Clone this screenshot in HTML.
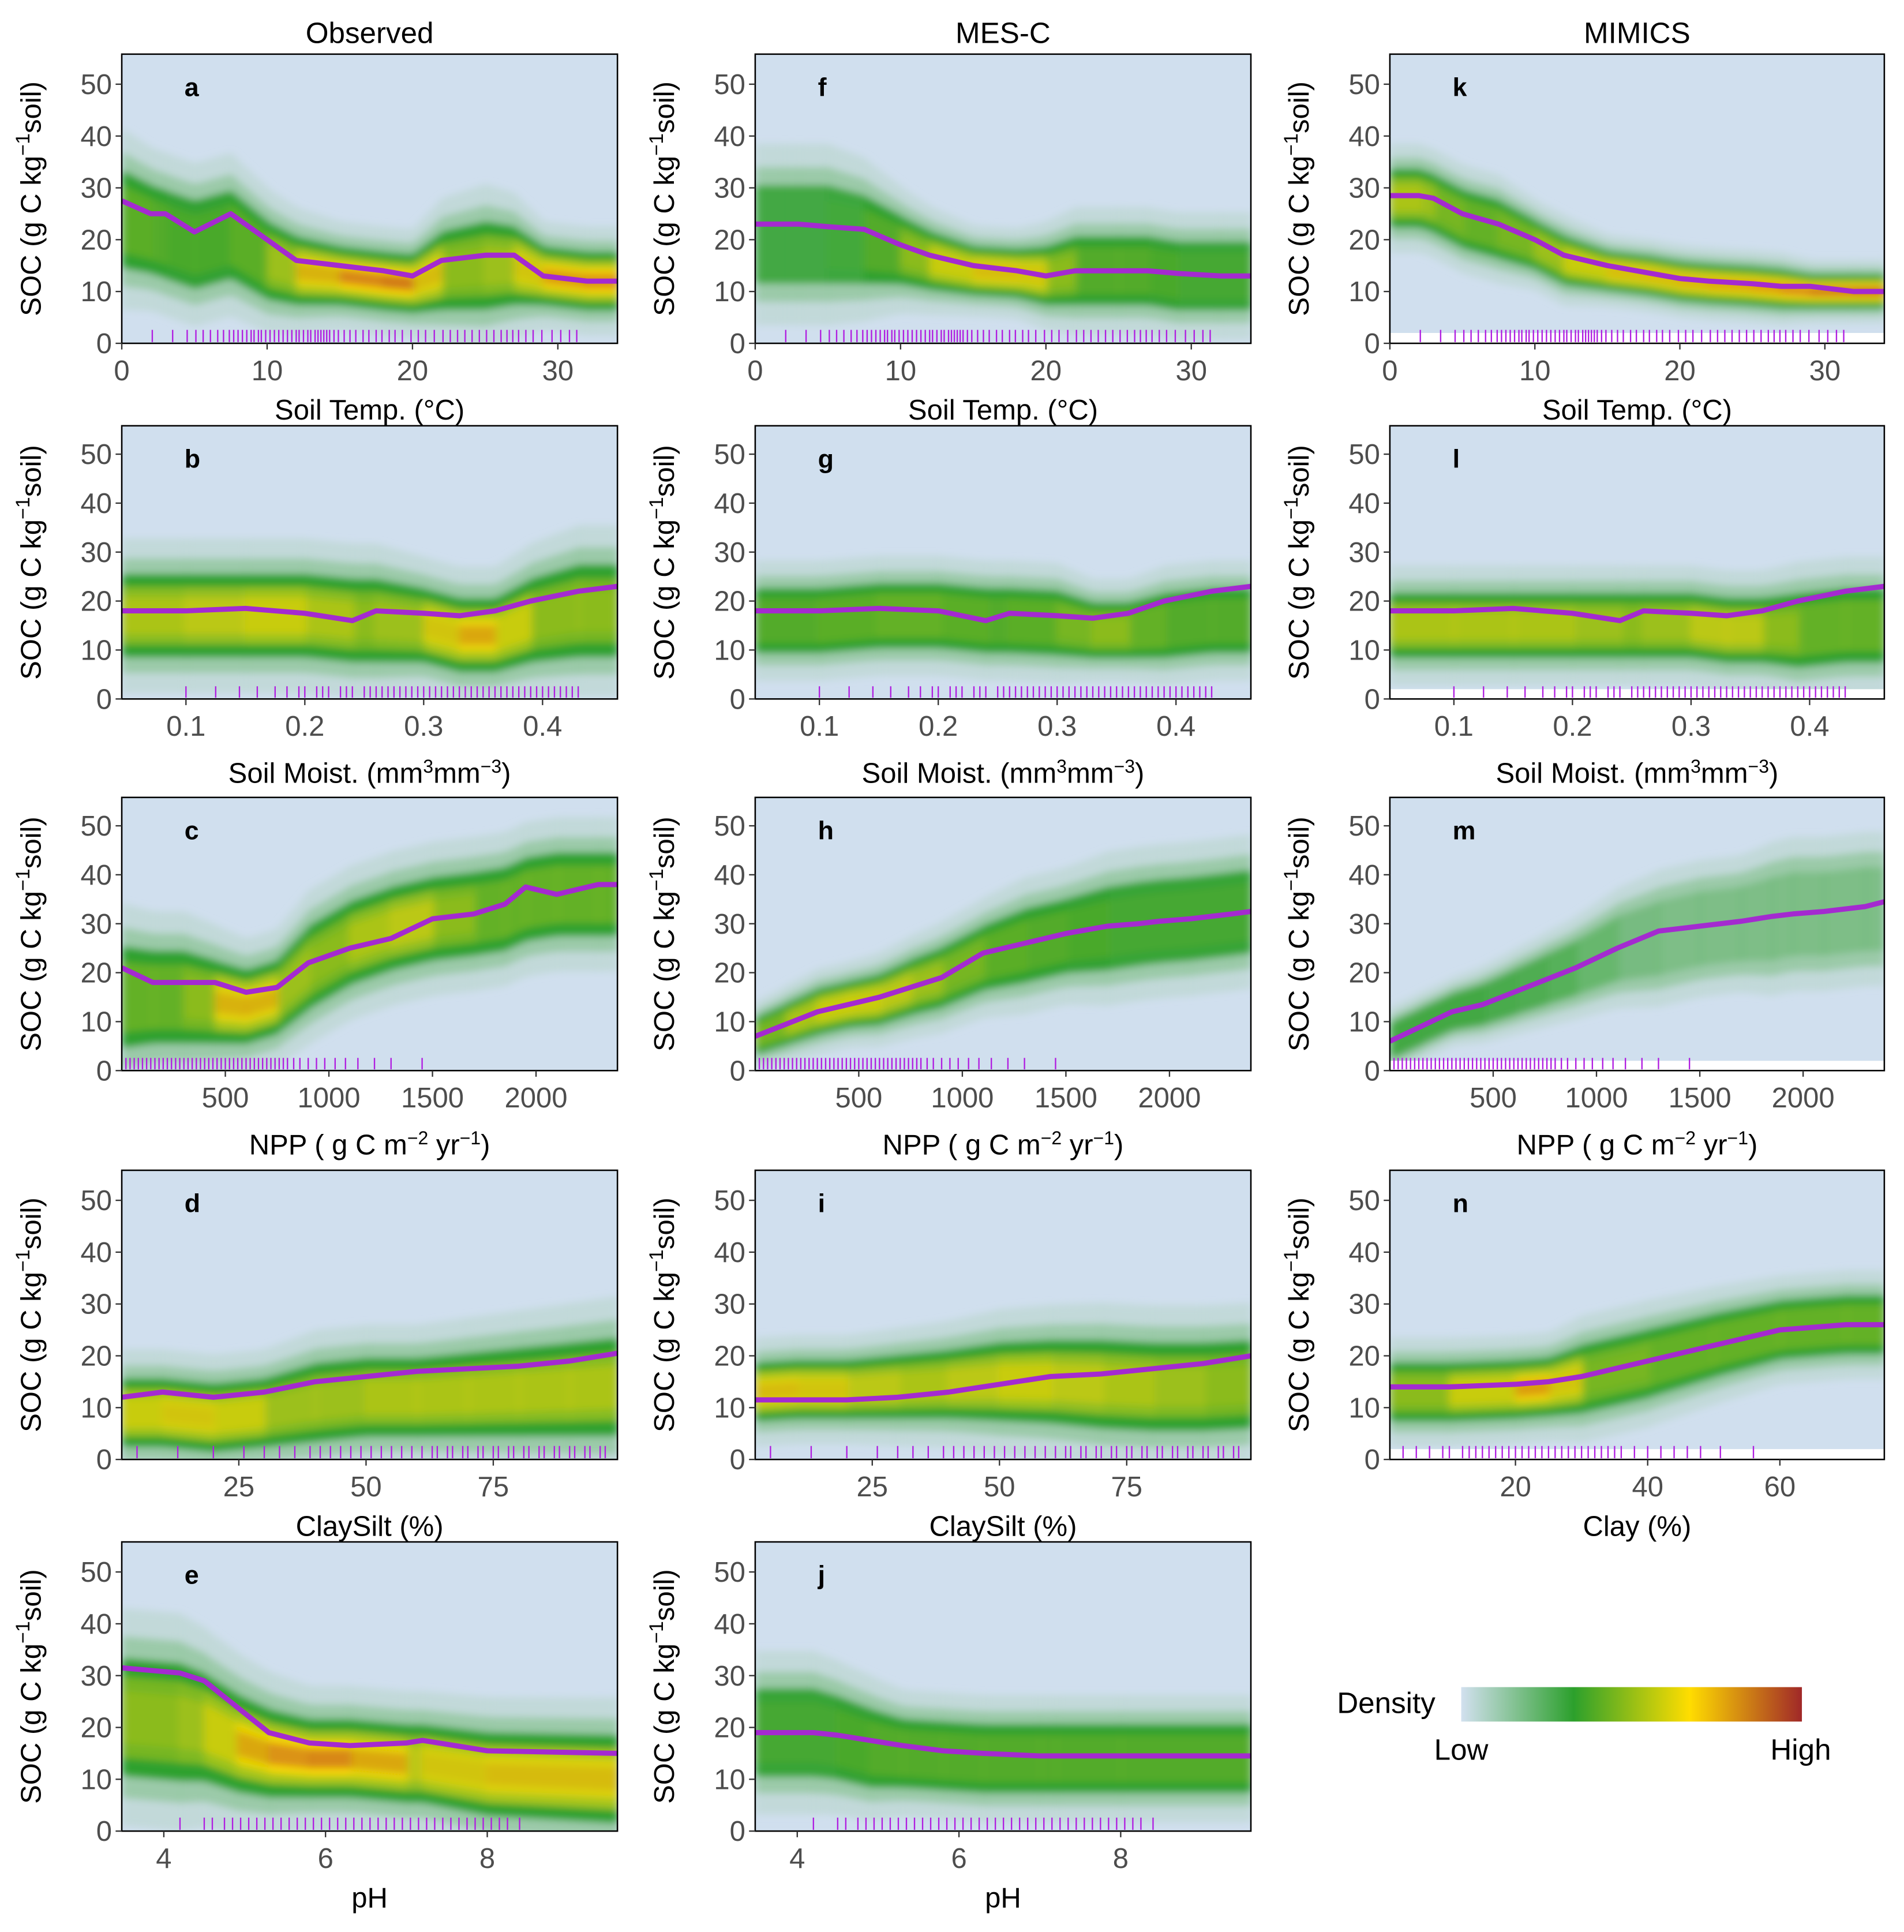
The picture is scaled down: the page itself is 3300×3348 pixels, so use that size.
<!DOCTYPE html>
<html><head><meta charset="utf-8"><style>
html,body{margin:0;padding:0;background:#fff;}
svg{display:block;font-family:"Liberation Sans",sans-serif;}
</style></head><body>
<svg id="fig" width="3300" height="3348" viewBox="0 0 1548 1570" preserveAspectRatio="none" xmlns="http://www.w3.org/2000/svg">
<defs>
<filter id="blur" x="-5%" y="-20%" width="110%" height="140%"><feGaussianBlur stdDeviation="3.5 3"/></filter>
<linearGradient id="legGrad" x1="0" x2="1" y1="0" y2="0">
<stop offset="0" stop-color="#d2e0ef"/><stop offset="0.33" stop-color="#2ca02c"/><stop offset="0.67" stop-color="#ffdd00"/><stop offset="1" stop-color="#a02828"/>
</linearGradient>
</defs>
</svg>
<script>
// ---- data (x sample positions, mean line, density mode, spread, heat) ----
const tempXs=[0,2,3,5,7.5,10,12,15,18,20,22,25,27,29,32,34.1];
const aLine=[27.5,25,25,21.5,25,20,16,15,14,13,16,17,17,13,12,12];
const aMode=[24,22,21,19,21,16,14,13,12,11.5,14,15,15,13,12,12];
const aSpread=[10,9,9,9,9,8,7,6,6,6,8,9,8,6,6,6];
const aHeat=[0.45,0.4,0.4,0.35,0.4,0.45,0.6,0.75,0.8,0.8,0.5,0.5,0.55,0.7,0.75,0.75];
const fLine=[23,23,23,22.5,22,19,17,15,14,13,14,14,14,13.5,13,13];
const fMode=[21,21,21,21,20,18,16,14,13.5,13,14,14,14,13,13,13];
const fSpread=[10,10,10,10,9,7,6,5,5,6,7,7,7,7,7,7];
const fHeat=[0.3,0.3,0.3,0.3,0.35,0.45,0.55,0.65,0.65,0.6,0.4,0.4,0.4,0.35,0.35,0.35];
const kLine=[28.5,28.5,28,25,23,20,17,15,13.5,12.5,12,11.5,11,11,10,10];
const kMode=[28,28,27,24,22,19,16,14,13,12,11.5,11,10.5,10,10,10];
const kSpread=[6,6,6,6,6,5,5,4,4,4,4,4,4,3.5,3.5,3.5];
const kHeat=[0.55,0.55,0.5,0.45,0.45,0.5,0.55,0.65,0.65,0.65,0.7,0.7,0.75,0.8,0.85,0.85];

const moistXs=[0.046,0.1,0.15,0.2,0.24,0.26,0.3,0.33,0.36,0.39,0.43,0.463];
const bLine=[18,18,18.5,17.5,16,18,17.5,17,18,20,22,23];
const bMode=[17,17,17,17,16,16,15,13,13,16,18,18];
const bSpread=[9,9,9,9,9,9,8,8,8,9,10,10];
const bHeat=[0.55,0.55,0.6,0.6,0.5,0.5,0.55,0.7,0.7,0.5,0.5,0.5];
const gLine=[18,18,18.5,18,16,17.5,17,16.5,17.5,20,22,23];
const gMode=[16,16,17,17,16,16,15.5,14,14,15,16,16];
const gSpread=[7,7,7,7,7,7,7,6,6,7,7,7];
const gHeat=[0.4,0.4,0.45,0.45,0.4,0.4,0.45,0.5,0.5,0.4,0.4,0.4];
const lLine=[18,18,18.5,17.5,16,18,17.5,17,18,20,22,23];
const lMode=[15,15,15,15,15,15,15,14,14,14,15,15];
const lSpread=[7,7,7,7,7,7,7,7,7,8,8,8];
const lHeat=[0.55,0.55,0.55,0.55,0.5,0.5,0.55,0.6,0.55,0.45,0.45,0.45];

const nppXs=[0,150,300,450,600,750,900,1100,1300,1500,1700,1850,1950,2100,2300,2393];
const cLine=[21,18,18,18,16,17,22,25,27,31,32,34,37.5,36,38,38];
const cMode=[15,15,15,14,13,15,21,26,29,31,32,33,35,36,36,36];
const cSpread=[11,10,10,9,8,8,9,9,9,9,9,9,9,9,9,9];
const cHeat=[0.45,0.45,0.45,0.55,0.8,0.55,0.5,0.5,0.6,0.55,0.45,0.45,0.45,0.45,0.45,0.45];
const hLine=[7,9.5,12,13.5,15,17,19,24,26,28,29.5,30,30.5,31,32,32.5];
const hMode=[7,9.5,12,13.5,14.5,17,19,23,25.5,27.5,29,30,30.5,31,32,32.5];
const hSpread=[4,4.5,5,5,5.5,6,6.5,7,8,8,9,9,9,9,9,9];
const hHeat=[0.45,0.5,0.6,0.6,0.6,0.55,0.5,0.45,0.4,0.4,0.35,0.35,0.35,0.35,0.35,0.35];
const mLine=[6,9,12,13.5,16,18.5,21,25,28.5,29.5,30.5,31.5,32,32.5,33.5,34.5];
const mMode=[6,9,12,13.5,16,18.5,21,25,27,29,30,31,32,32,33,33];
const mSpread=[4,4,4,4.5,5,5.5,6,7,8,8,8,9,9,9,9,9];
const mHeat=[0.3,0.3,0.3,0.3,0.25,0.25,0.2,0.1,0.06,0.06,0.06,0.06,0.06,0.06,0.06,0.06];

const claysiltXs=[2,10,20,30,40,50,60,70,80,90,99.4];
const dLine=[12,13,12,13,15,16,17,17.5,18,19,20.5];
const dMode=[9,9,8,9,11,12,12,12.5,13,13.5,14];
const dSpread=[7,7,7,7,8,8,8,8.5,9,9.5,10];
const dHeat=[0.6,0.6,0.65,0.55,0.5,0.55,0.55,0.55,0.55,0.55,0.55];
const iLine=[11.5,11.5,11.5,12,13,14.5,16,16.5,17.5,18.5,20];
const iMode=[13,13.5,13.5,14,14.5,15,15,14.5,14,14,14.5];
const iSpread=[6,6,6,6.5,7,8,8.5,9,9,9,9];
const iHeat=[0.65,0.65,0.6,0.55,0.55,0.6,0.6,0.55,0.55,0.5,0.5];

const clayXs=[1,10,20,25,30,40,50,60,70,75.8];
const nLine=[14,14,14.5,15,16,19,22,25,26,26];
const nMode=[13,13,13.5,14,15.5,18.5,22,25,26,26];
const nSpread=[6,6,6,6,7,7,6.5,6,6,6];
const nHeat=[0.5,0.5,0.7,0.75,0.5,0.45,0.45,0.45,0.45,0.45];

const phXs=[3.48,4.2,4.5,4.9,5.3,5.8,6.3,7,7.2,8,9.61];
const eLine=[31.5,30.5,29,24,19,17,16.5,17,17.5,15.5,15];
const eMode=[22,21,20,17,15,14,14,13,13,11,10];
const eSpread=[12,12,11,10,9,8,8,8,8,8.5,9];
const eHeat=[0.5,0.5,0.55,0.65,0.75,0.75,0.8,0.6,0.55,0.7,0.6];
const jLine=[19,19,18.5,17.5,16.5,15.5,15,14.5,14.5,14.5,14.5];
const jMode=[19,19,18,16,15,14.5,14,14,14,14,14];
const jSpread=[9,9,8.5,8,7,7,7,7,7,7,7];
const jHeat=[0.35,0.35,0.35,0.4,0.4,0.4,0.4,0.4,0.4,0.4,0.4];

// rug values (site covariates)
const tempRug=[2.1,3.5,4.5,5.1,5.6,6.1,6.6,7,7.4,7.7,8,8.3,8.6,8.9,9.1,9.4,9.6,9.9,10.2,10.5,10.8,11.1,11.4,11.7,12,12.2,12.5,12.8,13,13.3,13.5,13.7,13.9,14.1,14.3,14.6,14.9,15.3,15.7,16.1,16.6,17,17.5,17.9,18.4,18.8,19.3,19.9,20.4,20.9,21.5,22.1,22.6,23.1,23.6,24.1,24.6,25.1,25.6,26.1,26.5,26.9,27.3,27.8,28.3,28.9,29.6,30.2,30.8,31.3];
const moistRug=[0.1,0.125,0.145,0.16,0.175,0.185,0.195,0.2,0.21,0.215,0.22,0.23,0.235,0.24,0.25,0.255,0.26,0.265,0.27,0.275,0.28,0.285,0.29,0.295,0.3,0.305,0.31,0.315,0.32,0.325,0.33,0.335,0.34,0.345,0.35,0.355,0.36,0.365,0.37,0.375,0.38,0.385,0.39,0.395,0.4,0.405,0.41,0.415,0.42,0.425,0.43];
const nppRug=[20,40,60,80,100,120,140,160,180,200,220,240,260,280,300,320,340,360,380,400,420,440,460,480,500,520,540,560,580,600,620,640,660,680,700,720,740,760,780,800,830,860,900,940,980,1030,1080,1140,1220,1300,1450];
const claysiltRug=[5,13,20,26,30,33,36,39,41,43,45,47,49,51,53,55,57,59,61,63,64,66,67,69,70,72,73,75,76,78,79,81,82,84,85,87,88,90,91,93,94,96,97];
const clayRug=[3,5,7,9,10,12,13,14,15,16,17,18,19,20,21,22,23,24,25,26,27,28,29,30,31,32,33,34,35,36,38,40,42,44,46,48,51,56];
const phRug=[4.2,4.5,4.6,4.75,4.85,4.95,5.05,5.15,5.25,5.35,5.45,5.55,5.65,5.75,5.85,5.95,6.05,6.15,6.25,6.35,6.45,6.55,6.65,6.75,6.85,6.95,7.05,7.15,7.25,7.35,7.45,7.55,7.65,7.75,7.85,7.95,8.05,8.15,8.25,8.4];

const tempTicks=[0,10,20,30], moistTicks=[0.1,0.2,0.3,0.4], nppTicks=[500,1000,1500,2000];
const claysiltTicks=[25,50,75], clayTicks=[20,40,60], phTicks=[4,6,8];
const yTicks=[0,10,20,30,40,50];

const svg=document.getElementById('fig');
const NS='http://www.w3.org/2000/svg';
const colX=[[99,502],[614,1017],[1130,1532]];
const rowY=[[44,279],[346,568],[648,870],[951,1186],[1253,1488]];
const titleOff=[62,68,68,62,62];
const yMax=55.8;
function mk(tag,attrs,parent){const e=document.createElementNS(NS,tag);for(const k in attrs)e.setAttribute(k,attrs[k]);(parent||svg).appendChild(e);return e;}
const cl=v=>Math.max(0,Math.min(1,v));

const panels=[
 {id:'a',c:0,r:0,dom:[0,34.1],xs:tempXs,line:aLine,mode:aMode,sp:aSpread,heat:aHeat,rug:tempRug,ticks:tempTicks,fmt:v=>v},
 {id:'b',c:0,r:1,dom:[0.046,0.463],xs:moistXs,line:bLine,mode:bMode,sp:bSpread,heat:bHeat,rug:moistRug,ticks:moistTicks,fmt:v=>v.toFixed(1)},
 {id:'c',c:0,r:2,dom:[0,2393],xs:nppXs,line:cLine,mode:cMode,sp:cSpread,heat:cHeat,rug:nppRug,ticks:nppTicks,fmt:v=>v},
 {id:'d',c:0,r:3,dom:[2,99.4],xs:claysiltXs,line:dLine,mode:dMode,sp:dSpread,heat:dHeat,rug:claysiltRug,ticks:claysiltTicks,fmt:v=>v},
 {id:'e',c:0,r:4,dom:[3.48,9.61],xs:phXs,line:eLine,mode:eMode,sp:eSpread,heat:eHeat,rug:phRug,ticks:phTicks,fmt:v=>v},
 {id:'f',c:1,r:0,dom:[0,34.1],xs:tempXs,line:fLine,mode:fMode,sp:fSpread,heat:fHeat,rug:tempRug,ticks:tempTicks,fmt:v=>v},
 {id:'g',c:1,r:1,dom:[0.046,0.463],xs:moistXs,line:gLine,mode:gMode,sp:gSpread,heat:gHeat,rug:moistRug,ticks:moistTicks,fmt:v=>v.toFixed(1)},
 {id:'h',c:1,r:2,dom:[0,2393],xs:nppXs,line:hLine,mode:hMode,sp:hSpread,heat:hHeat,rug:nppRug,ticks:nppTicks,fmt:v=>v},
 {id:'i',c:1,r:3,dom:[2,99.4],xs:claysiltXs,line:iLine,mode:iMode,sp:iSpread,heat:iHeat,rug:claysiltRug,ticks:claysiltTicks,fmt:v=>v},
 {id:'j',c:1,r:4,dom:[3.48,9.61],xs:phXs,line:jLine,mode:jMode,sp:jSpread,heat:jHeat,rug:phRug,ticks:phTicks,fmt:v=>v},
 {id:'k',c:2,r:0,dom:[0,34.1],xs:tempXs,line:kLine,mode:kMode,sp:kSpread,heat:kHeat,rug:tempRug,ticks:tempTicks,fmt:v=>v,white:true},
 {id:'l',c:2,r:1,dom:[0.046,0.463],xs:moistXs,line:lLine,mode:lMode,sp:lSpread,heat:lHeat,rug:moistRug,ticks:moistTicks,fmt:v=>v.toFixed(1),white:true},
 {id:'m',c:2,r:2,dom:[0,2393],xs:nppXs,line:mLine,mode:mMode,sp:mSpread,heat:mHeat,rug:nppRug,ticks:nppTicks,fmt:v=>v,white:true},
 {id:'n',c:2,r:3,dom:[1,75.8],xs:clayXs,line:nLine,mode:nMode,sp:nSpread,heat:nHeat,rug:clayRug,ticks:clayTicks,fmt:v=>v,white:true}
];
const xTitles=['Soil Temp. (°C)','Soil Moist. (mm<tspan dy="-8" font-size="15">3</tspan><tspan dy="8">mm</tspan><tspan dy="-8" font-size="15">−3</tspan><tspan dy="8">)</tspan>','NPP ( g C m<tspan dy="-8" font-size="15">−2</tspan><tspan dy="8"> yr</tspan><tspan dy="-8" font-size="15">−1</tspan><tspan dy="8">)</tspan>','ClaySilt (%)','pH'];

panels.forEach(p=>{
 const [x0,x1]=colX[p.c],[y0,y1]=rowY[p.r];
 const X=v=>x0+(v-p.dom[0])/(p.dom[1]-p.dom[0])*(x1-x0);
 const Y=v=>y1-v/yMax*(y1-y0);
 const g=mk('g',{});
 
 
 const cp=mk('clipPath',{id:'clip'+p.id},g);
 mk('rect',{x:x0,y:y0,width:x1-x0,height:y1-y0},cp);
 const bg=mk('rect',{x:x0,y:y0,width:x1-x0,height:y1-y0,fill:'#d0dfee'},g);
 
 
 const cg=mk('g',{'clip-path':'url(#clip'+p.id+')'},g);
 const dg=mk('g',{filter:'url(#blur)'},cg);
 
 
 const bands=[
  {k:1.75,col:'#b9d6cc',op:h=>0.6},
  {k:1.3,col:'#8cc596',op:h=>0.7},
  {k:0.95,col:'#2ea12e',op:h=>cl(0.15+h*2.2)},
  {k:0.65,col:'#a6c51e',op:h=>cl((h-0.3)*3)},
  {k:0.42,col:'#fad800',op:h=>cl((h-0.45)*3.2)},
  {k:0.24,col:'#b8402a',op:h=>cl((h-0.6)*3)}
 ];
 bands.forEach(b=>{
  for(let i=0;i<p.xs.length-1;i++){
   const h=(p.heat[i]+p.heat[i+1])/2;
   const o=b.op(h); if(o<=0) continue;
   const xa=X(p.xs[i]),xb=X(p.xs[i+1])+0.8;
   const pts=[[xa,Y(p.mode[i]+b.k*p.sp[i])],[xb,Y(p.mode[i+1]+b.k*p.sp[i+1])],[xb,Y(Math.max(-2,p.mode[i+1]-b.k*p.sp[i+1]))],[xa,Y(Math.max(-2,p.mode[i]-b.k*p.sp[i]))]];
   const poly=mk('polygon',{points:pts.map(q=>q.join(',')).join(' '),fill:b.col,'fill-opacity':o},dg);
   
   
  }
 });
 if(p.white){
  const w=mk('rect',{x:x0,y:Y(2),width:x1-x0,height:y1-Y(2),fill:'#ffffff'},cg);
  
  
 }
 p.rug.forEach(v=>{
  if(v<p.dom[0]||v>p.dom[1]) return;
  const t=mk('line',{x1:X(v),x2:X(v),y1:y1-1,y2:Y(2.6),stroke:'#b01ee0','stroke-width':1.1},cg);
  
  
 });
 const ln=mk('polyline',{points:p.xs.map((v,i)=>X(v)+','+Y(p.line[i])).join(' '),fill:'none',stroke:'#a42ad0','stroke-width':4.2,'stroke-linejoin':'round'},cg);
 
 
 const fr=mk('rect',{x:x0,y:y0,width:x1-x0,height:y1-y0,fill:'none',stroke:'#000','stroke-width':1.2},g);
 
 
 const lt=mk('text',{x:x0+51,y:y0+34,'font-size':21,'font-weight':'bold'},g);
 lt.textContent=p.id;
 
 
 yTicks.forEach(v=>{
  mk('line',{x1:x0-5,x2:x0,y1:Y(v),y2:Y(v),stroke:'#333','stroke-width':1.1},g);
  const t=mk('text',{x:x0-8,y:Y(v)+8,'font-size':23,fill:'#4d4d4d','text-anchor':'end'},g);
  t.textContent=v;
  
  
 });
 p.ticks.forEach(v=>{
  mk('line',{x1:X(v),x2:X(v),y1:y1,y2:y1+5,stroke:'#333','stroke-width':1.1},g);
  const t=mk('text',{x:X(v),y:y1+30,'font-size':23,fill:'#4d4d4d','text-anchor':'middle'},g);
  t.textContent=p.fmt(v);
  
  
 });
 const yt=mk('text',{transform:'translate('+(x0-66)+','+((y0+y1)/2)+') rotate(-90)','font-size':23,'text-anchor':'middle'},g);
 yt.innerHTML='SOC (g C kg<tspan dy="-9" font-size="16">−1</tspan><tspan dy="9">soil)</tspan>';
 
 
 const xt=mk('text',{x:(x0+x1)/2,y:y1+titleOff[p.r],'font-size':23,'text-anchor':'middle'},g);
 xt.innerHTML=(p.id==='n')?'Clay (%)':xTitles[p.r];
 
 
});
['Observed','MES-C','MIMICS'].forEach((s,i)=>{
 const t=mk('text',{x:(colX[i][0]+colX[i][1])/2,y:35,'font-size':24,'text-anchor':'middle'});
 t.textContent=s;
 
 
});
const lg=mk('g',{});


const l1=mk('text',{x:1087,y:1392,'font-size':24},lg);l1.textContent='Density';


const lb=mk('rect',{x:1188,y:1371,width:277,height:28,fill:'url(#legGrad)'},lg);


const l2=mk('text',{x:1188,y:1430,'font-size':24,'text-anchor':'middle'},lg);l2.textContent='Low';


const l3=mk('text',{x:1464,y:1430,'font-size':24,'text-anchor':'middle'},lg);l3.textContent='High';


</script>
</body></html>
